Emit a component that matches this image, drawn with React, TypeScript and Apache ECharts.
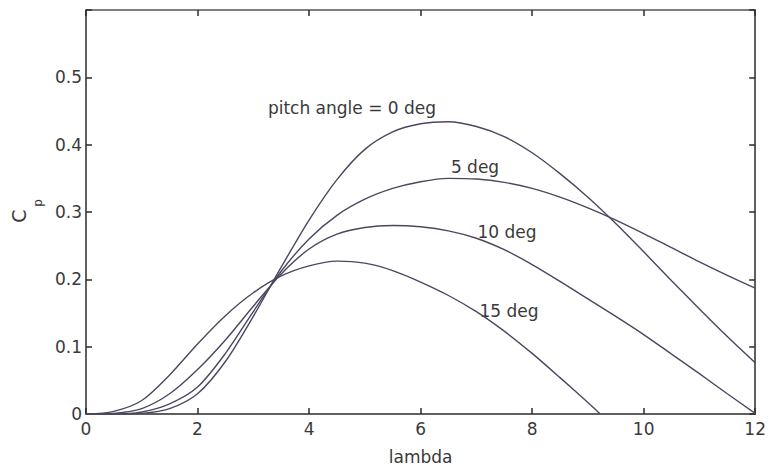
import React, { useEffect, useRef } from 'react';
import * as echarts from 'echarts';

const lambda = [0, 0.5, 1, 1.5, 2, 2.5, 3, 3.5, 4, 4.5, 5, 5.5, 6, 6.5, 7, 7.5, 8, 8.5, 9, 9.5, 10, 10.5, 11, 11.5, 12];
const cp0 = [0, 0, 0.001, 0.008, 0.03, 0.078, 0.145, 0.218, 0.288, 0.348, 0.393, 0.419, 0.431, 0.434, 0.427, 0.412, 0.388, 0.357, 0.322, 0.283, 0.241, 0.198, 0.156, 0.115, 0.076];
const cp5 = [0, 0, 0.003, 0.015, 0.04, 0.09, 0.152, 0.212, 0.26, 0.295, 0.319, 0.335, 0.345, 0.35, 0.349, 0.344, 0.335, 0.322, 0.306, 0.288, 0.268, 0.247, 0.226, 0.206, 0.187];
const cp10 = [0, 0.001, 0.008, 0.03, 0.066, 0.11, 0.16, 0.208, 0.245, 0.267, 0.277, 0.28, 0.278, 0.272, 0.261, 0.244, 0.222, 0.197, 0.171, 0.145, 0.118, 0.089, 0.06, 0.03, 0.001];
const lambda15 = [0, 0.5, 1, 1.5, 2, 2.5, 3, 3.5, 4, 4.5, 5, 5.5, 6, 6.5, 7, 7.5, 8, 8.5, 9, 9.22];
const cp15 = [0, 0.004, 0.02, 0.058, 0.104, 0.146, 0.18, 0.205, 0.22, 0.227, 0.224, 0.213, 0.196, 0.176, 0.152, 0.123, 0.09, 0.054, 0.017, 0];

const curveLabels = ['pitch angle = 0 deg', '5 deg', '10 deg', '15 deg'];
const xTicks = [0, 2, 4, 6, 8, 10, 12];
const xName = 'lambda';

const FONT = 'DejaVu Sans';
const LINE = '#4d4660';
const TEXT = '#3a3a3a';

function pairs(xs: number[], ys: number[]) {
  return ys.map((y, i) => [xs[i], y]);
}

export default function App() {
  const ref = useRef<HTMLDivElement>(null);
  useEffect(() => {
    const chart = echarts.init(ref.current!, null, { renderer: 'svg' });
    const axisLine = { show: true, onZero: false, lineStyle: { color: '#2b2b2b', width: 1.5 } };
    const tick = { show: true, inside: true, length: 6, lineStyle: { color: '#2b2b2b', width: 1.5 } };
    const labelStyle = { fontFamily: FONT, fontSize: 17, color: TEXT };
    const series = [
      pairs(lambda, cp0),
      pairs(lambda, cp5),
      pairs(lambda, cp10),
      pairs(lambda15, cp15),
    ].map((d, i) => ({
      type: 'line',
      name: curveLabels[i],
      data: d,
      smooth: 0.3,
      showSymbol: false,
      xAxisIndex: 0,
      yAxisIndex: 0,
      lineStyle: { color: LINE, width: 1.4 },
    }));
    chart.setOption({
      animation: false,
      backgroundColor: '#ffffff',
      grid: { left: 86, top: 10, right: 11, bottom: 55, containLabel: false },
      xAxis: [
        {
          type: 'value', min: 0, max: 12, interval: 2, position: 'bottom',
          axisLine, axisTick: tick, splitLine: { show: false },
          axisLabel: { ...labelStyle, margin: 6, formatter: (v: number) => (xTicks.includes(v) ? String(v) : '') },
          name: xName, nameLocation: 'middle', nameGap: 34,
          nameTextStyle: { fontFamily: FONT, fontSize: 17, color: TEXT },
        },
        {
          type: 'value', min: 0, max: 12, interval: 2, position: 'top',
          axisLine: { show: true, onZero: false, lineStyle: { color: '#555', width: 1.5 } },
          axisTick: tick, axisLabel: { show: false }, splitLine: { show: false },
        },
      ],
      yAxis: [
        {
          type: 'value', min: 0, max: 0.6, interval: 0.1, position: 'left',
          axisLine, axisTick: tick, splitLine: { show: false },
          axisLabel: {
            ...labelStyle, margin: 4,
            formatter: (v: number) => (Math.abs(v - 0.6) < 1e-9 ? '' : v === 0 ? '0' : v.toFixed(1)),
          },
        },
        {
          type: 'value', min: 0, max: 0.6, interval: 0.1, position: 'right',
          axisLine, axisTick: tick, axisLabel: { show: false }, splitLine: { show: false },
        },
      ],
      series,
      graphic: [
        { type: 'text', x: 352, y: 108, style: { text: curveLabels[0], font: `17px "${FONT}"`, fill: TEXT, align: 'center', verticalAlign: 'middle' } },
        { type: 'text', x: 475, y: 167, style: { text: curveLabels[1], font: `17px "${FONT}"`, fill: TEXT, align: 'center', verticalAlign: 'middle' } },
        { type: 'text', x: 507, y: 232, style: { text: curveLabels[2], font: `17px "${FONT}"`, fill: TEXT, align: 'center', verticalAlign: 'middle' } },
        { type: 'text', x: 509, y: 311, style: { text: curveLabels[3], font: `17px "${FONT}"`, fill: TEXT, align: 'center', verticalAlign: 'middle' } },
        { type: 'text', x: 19, y: 216, rotation: Math.PI / 2, style: { text: 'C', font: `19px "${FONT}"`, fill: TEXT, align: 'center', verticalAlign: 'middle' } },
        { type: 'text', x: 38, y: 203, rotation: Math.PI / 2, style: { text: 'p', font: `12px "${FONT}"`, fill: TEXT, align: 'center', verticalAlign: 'middle' } },
      ],
    });
    return () => chart.dispose();
  }, []);
  return <div ref={ref} style={{ position: 'absolute', left: 0, top: 0, width: 769, height: 470 }} />;
}
